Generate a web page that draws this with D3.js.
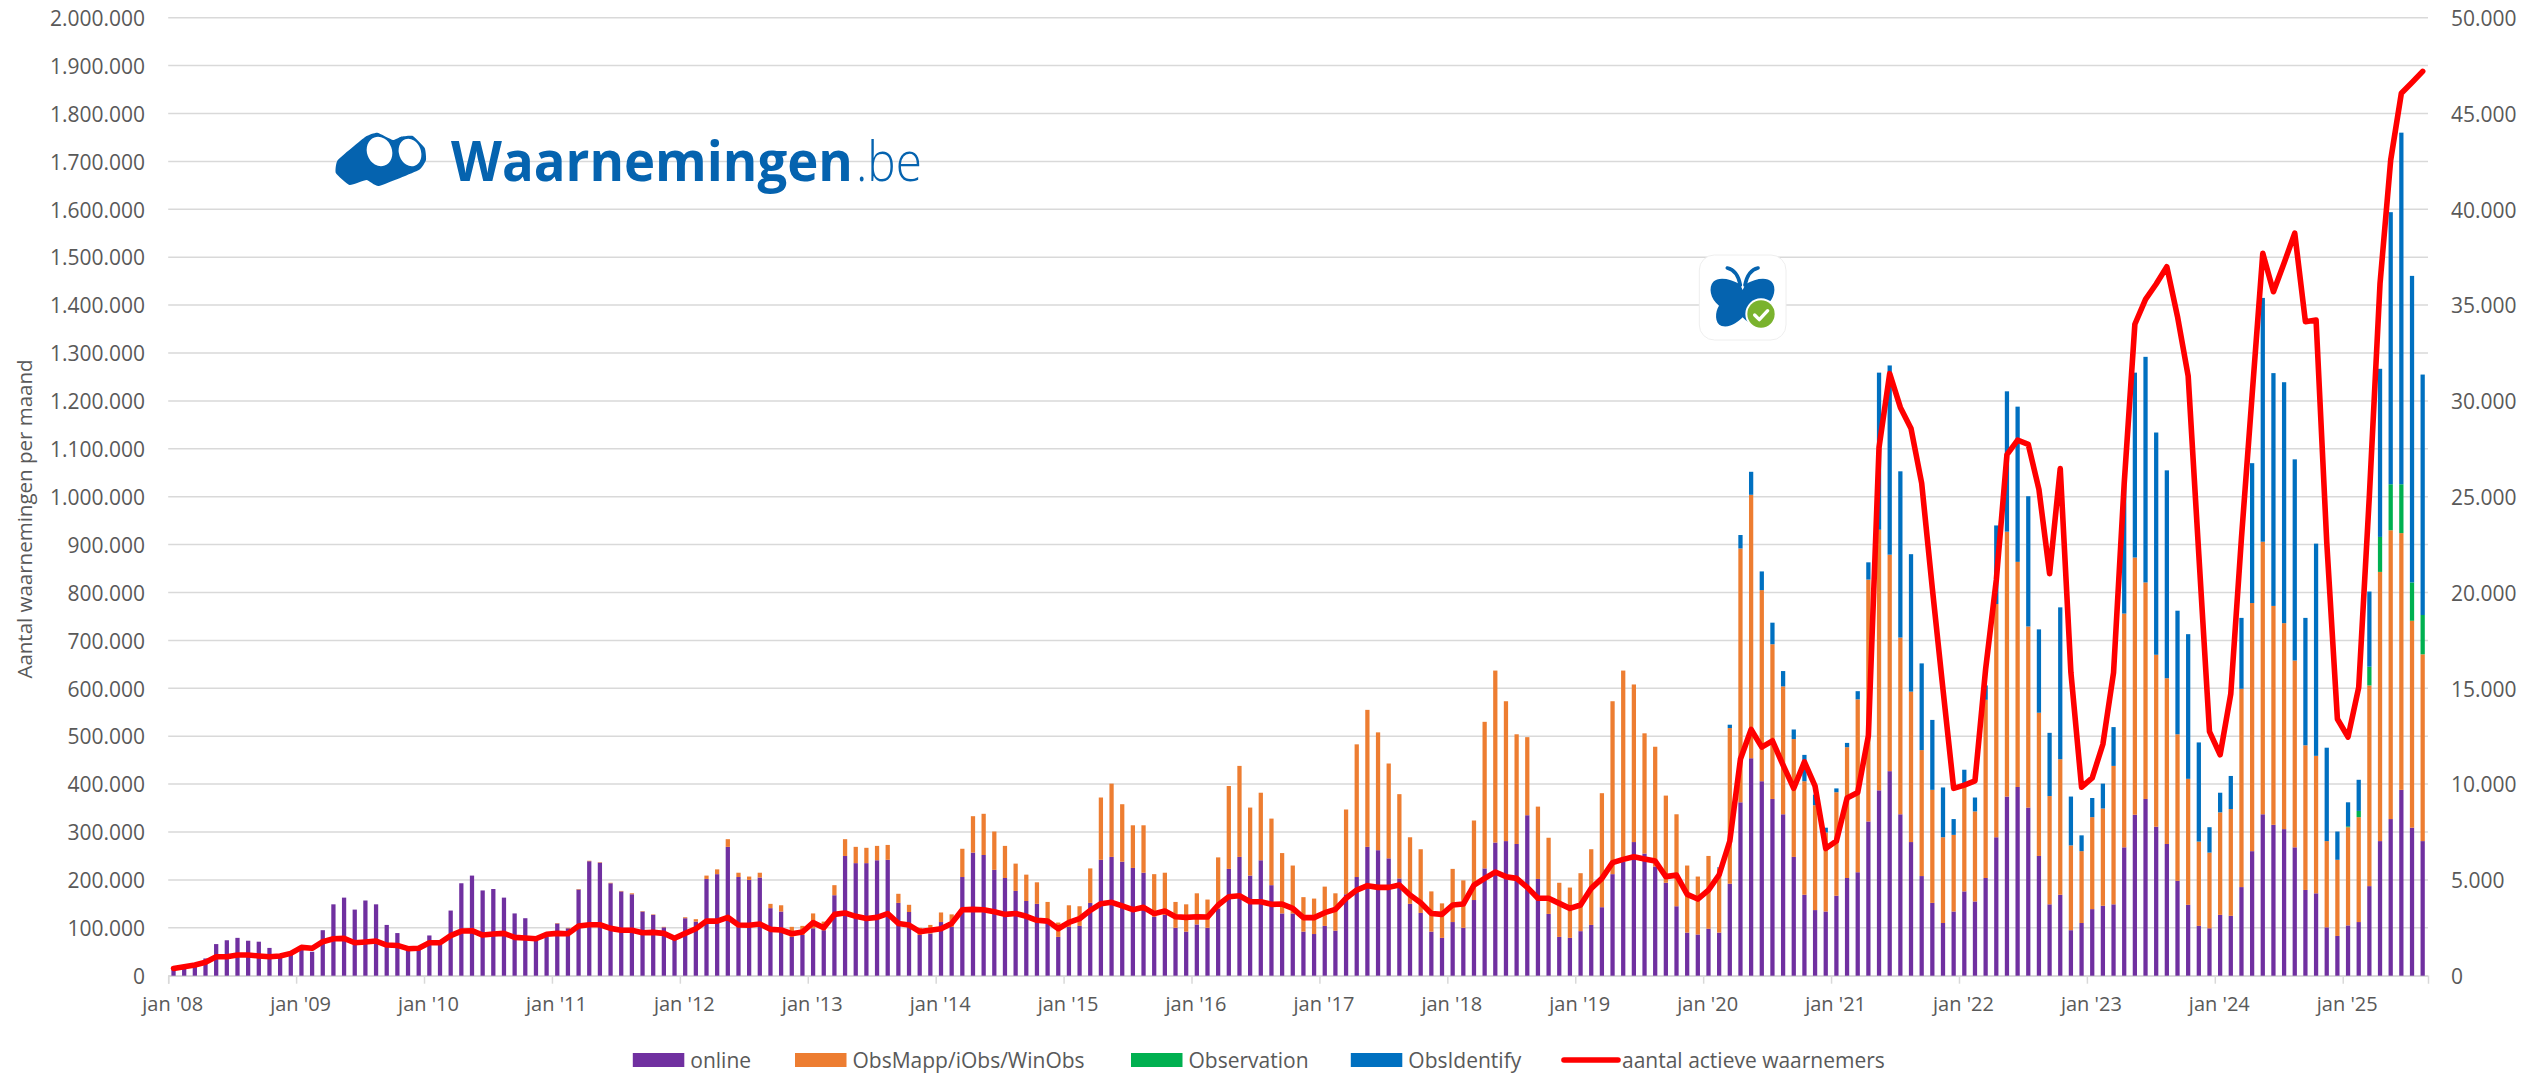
<!DOCTYPE html>
<html><head><meta charset="utf-8">
<script src="https://cdn.jsdelivr.net/npm/d3@7"></script>
<style>
html,body{margin:0;padding:0;background:#fff;overflow:hidden}
text{font-family:"Open Sans",sans-serif;fill:#595959}
</style></head><body>
<svg id="c" width="2527" height="1073"></svg>
<script>
// monthly values, in thousands of observations (Jan 2008 – Aug 2025)
const online=[14,17,25,36,66,74,79,73,71,58,40,45,
55,50,95,149,163,138,157,149,106,89,60,58,
84,70,136,193,209,178,181,163,130,120,78,82,
109,99,180,239,236,193,176,170,134,127,101,78,
120,113,202,212,269,206,200,205,141,134,81,85,
99,95,168,250,235,235,241,242,152,133,85,88,
112,102,206,257,252,221,204,177,156,150,113,81,
102,104,152,242,248,238,225,215,123,127,100,92,
107,100,140,223,248,209,241,189,130,130,92,87,
104,94,170,206,269,262,245,203,150,131,92,79,
112,100,158,224,278,281,275,335,202,129,81,79,
93,106,143,212,238,279,255,228,194,145,90,86,
98,90,192,362,454,406,369,337,248,169,137,134,
167,204,216,322,387,427,337,279,208,152,110,134,
176,155,204,289,374,394,351,250,149,169,95,110,
139,146,149,268,336,369,311,275,198,148,104,99,
127,125,185,260,337,315,306,268,179,172,101,83,
105,112,187,281,327,388,309,281];
const obsMapp=[0,0,0,0,0,0,0,0,0,0,0,0,
0,0,0,0,0,0,0,0,0,0,0,0,
0,0,0,0,0,0,0,0,0,0,0,0,
1,1,1,1,1,1,1,2,1,1,1,1,
2,5,7,10,16,9,7,10,9,13,21,19,
31,18,21,35,34,32,30,31,19,15,15,18,
20,26,59,76,86,80,67,57,55,45,41,30,
45,41,72,130,153,120,89,99,89,88,54,57,
65,59,107,173,190,142,141,139,126,100,72,74,
82,78,177,277,286,246,198,176,139,133,84,72,
111,99,166,306,359,292,229,163,151,159,113,105,
121,158,238,361,399,329,251,250,182,192,140,121,
152,134,325,530,550,399,323,267,246,237,219,165,
216,273,361,505,544,452,369,314,263,236,179,160,
226,188,372,487,553,470,378,299,226,283,177,150,
192,203,289,488,537,452,359,346,306,263,176,158,
214,223,414,518,569,457,430,390,302,287,180,159,
205,219,419,562,603,536,432,390];
const observation=new Array(204).fill(0).concat([2,13,39,73,96,102,80,82]);
const obsIdentify=new Array(144).fill(0).concat([0,2,7,28,48,39,45,32,20,55,22,10,
8,9,17,36,328,395,347,287,181,146,104,33,
28,29,30,164,293,324,272,174,132,317,102,33,
40,52,81,279,386,471,464,434,258,302,207,53,
41,69,148,292,509,486,503,420,266,443,195,59,
50,65,157,351,568,734,640,502]);
const observers=[380,470,560,700,990,990,1080,1080,1030,990,1030,1165,
1480,1430,1775,1930,1950,1720,1760,1810,1600,1580,1410,1430,
1720,1720,2090,2330,2350,2120,2175,2210,2000,1970,1930,2160,
2210,2190,2590,2660,2660,2470,2370,2370,2245,2260,2210,1950,
2210,2450,2850,2850,3045,2645,2630,2700,2420,2385,2190,2280,
2770,2505,3200,3270,3100,2990,3045,3240,2730,2645,2300,2370,
2450,2730,3445,3460,3445,3340,3200,3250,3100,2890,2850,2450,
2780,2975,3410,3760,3830,3640,3445,3570,3240,3375,3080,3045,
3080,3060,3690,4125,4175,3860,3860,3725,3740,3515,3030,3030,
3290,3460,4040,4470,4700,4610,4610,4730,4210,3810,3250,3200,
3690,3740,4730,5080,5410,5170,5080,4610,4040,4040,3775,3515,
3690,4560,5080,5900,6070,6210,6090,5985,5170,5250,4245,4000,
4470,5270,7030,11310,12850,11930,12260,10985,9780,11160,9890,6635,
7030,9270,9560,12520,27570,31420,29660,28560,25700,20210,14940,9780,
9950,10170,16000,20650,27200,27950,27730,25380,20980,26470,15820,9840,
10330,12080,15820,25700,34000,35300,36100,37000,34400,31300,21970,12740,
11530,14720,22850,30300,37700,35700,37200,38750,34130,34220,22630,13400,
12460,15050,25050,36130,42570,46060,46620,47200];
const yearLabels=["jan '08","jan '09","jan '10","jan '11","jan '12","jan '13","jan '14","jan '15","jan '16","jan '17","jan '18","jan '19","jan '20","jan '21","jan '22","jan '23","jan '24","jan '25"];
const seriesNames=["online","ObsMapp/iObs/WinObs","Observation","ObsIdentify"];
const seriesColors=["#7030A0","#ED7D31","#00B050","#0070C0"];
const lineName="aantal actieve waarnemers";
const yLeftTitle="Aantal waarnemingen per maand";

const months=d3.range(online.length);
const rows=months.map(i=>({i,online:online[i]*1000,"ObsMapp/iObs/WinObs":obsMapp[i]*1000,Observation:observation[i]*1000,ObsIdentify:obsIdentify[i]*1000}));
const stack=d3.stack().keys(seriesNames)(rows);

const L=168.2,R=2428,T=17.7,B=975.7;
const x=d3.scaleBand().domain(months).range([L,R]).paddingInner(0.6).paddingOuter(0.3);
const xTicks=d3.scaleLinear().domain([0,months.length]).range([L,R]);
const yL=d3.scaleLinear().domain([0,2000000]).range([B,T]);
const yR=d3.scaleLinear().domain([0,50000]).range([B,T]);
const fmt=d3.formatLocale({decimal:",",thousands:".",grouping:[3],currency:["",""]}).format(",");

const svg=d3.select("#c");
const grid="#d9d9d9";

// gridlines
svg.append("g").selectAll("line").data(yL.ticks(20)).join("line")
  .attr("x1",L).attr("x2",R).attr("y1",d=>yL(d)).attr("y2",d=>yL(d))
  .attr("stroke",grid).attr("stroke-width",1.5);

// left axis
const gl=svg.append("g").attr("transform",`translate(145,1)`)
  .call(d3.axisLeft(yL).ticks(20).tickFormat(fmt).tickSize(0).tickPadding(0));
gl.select(".domain").remove();
gl.selectAll("text").style("font-size","21px").style("font-family","'Open Sans'").attr("fill","#595959");
// right axis
const gr=svg.append("g").attr("transform",`translate(2451,1)`)
  .call(d3.axisRight(yR).ticks(10).tickFormat(fmt).tickSize(0).tickPadding(0));
gr.select(".domain").remove();
gr.selectAll("text").style("font-size","21px").style("font-family","'Open Sans'").attr("fill","#595959");
// bottom axis
const gb=svg.append("g").attr("transform",`translate(0,${B})`)
  .call(d3.axisBottom(xTicks).tickValues(yearLabels.map((_,i)=>i*12)).tickFormat((d,i)=>yearLabels[i]).tickSize(8).tickPadding(13));
gb.select(".domain").attr("stroke",grid).attr("stroke-width",1.5);
gb.selectAll(".tick line").attr("stroke",grid).attr("stroke-width",1.5);
gb.selectAll("text").style("font-size","20px").style("font-family","'Open Sans'").attr("fill","#595959").attr("dx",4);

// y title
svg.append("text").attr("transform","translate(32,519) rotate(-90)").attr("text-anchor","middle")
  .style("font-size","20.5px").text(yLeftTitle);

// logo: Waarnemingen.be
const blue="#0563AF";
const logo=svg.append("g");
const logoOutline=[[337.8,160],[365.5,136.7],[377.3,132.7],[393,140],[401,136.7],[412.9,136],[424.7,148],[426,160],[418.8,170],[379,186],[366.6,180],[349.6,185],[335.8,173]];
logo.append("path").attr("d",d3.line().curve(d3.curveCardinalClosed.tension(0.6))(logoOutline)).attr("fill",blue);
logo.append("ellipse").attr("cx",379.5).attr("cy",151.5).attr("rx",12.5).attr("ry",15).attr("transform","rotate(-20 379.5 151.5)").attr("fill","#fff");
logo.append("ellipse").attr("cx",410).attr("cy",152.5).attr("rx",11).attr("ry",14).attr("transform","rotate(-20 410 152.5)").attr("fill","#fff");
// each word is fitted horizontally by scaling, so its box stays where it is drawn
function fitted(str,left,width,weight){
  const t=logo.append("text").style("font-size","56px").style("font-weight",weight).style("fill",blue).text(str);
  const w=t.node().getComputedTextLength();
  t.attr("transform",`translate(${left},180.7) scale(${width/w},1)`);
}
fitted("Waarnemingen",451,402,700);
fitted(".be",856,66,300);

// app icon
const icon=svg.append("g").attr("transform","translate(1680,240) scale(0.3333)");
icon.append("rect").attr("x",58).attr("y",45).attr("width",260).attr("height",255).attr("rx",45).attr("fill","#fff").attr("stroke","#eeeeee").attr("stroke-width",3);
icon.append("path").attr("d","M180,133 C150,115 115,110 100,125 C85,142 90,175 117,197 C105,215 103,250 125,258 C150,265 175,245 188,232 C200,245 225,265 250,258 C272,250 271,215 258,197 C285,175 290,142 275,125 C260,110 226,115 196,133 L188,150 Z").attr("fill",blue);
icon.append("path").attr("d","M181,135 C175,105 160,88 142,84 M195,135 C201,105 216,88 234,84").attr("fill","none").attr("stroke",blue).attr("stroke-width",11).attr("stroke-linecap","round");
icon.append("circle").attr("cx",243).attr("cy",222).attr("r",47).attr("fill","#fff");
icon.append("circle").attr("cx",243).attr("cy",222).attr("r",41).attr("fill","#7AB32E");
icon.append("path").attr("d","M224,225 L238,239 L263,212").attr("fill","none").attr("stroke","#fff").attr("stroke-width",10).attr("stroke-linecap","round").attr("stroke-linejoin","round");

// bars
svg.append("g").selectAll("g").data(stack).join("g").attr("fill",(d,i)=>seriesColors[i])
  .selectAll("rect").data(d=>d).join("rect")
  .attr("x",d=>x(d.data.i)).attr("width",x.bandwidth())
  .attr("y",d=>yL(d[1])).attr("height",d=>Math.max(0,yL(d[0])-yL(d[1])));

// line
svg.append("path").attr("d",d3.line().x((d,i)=>x(i)+x.bandwidth()/2).y(d=>yR(d))(observers))
  .attr("fill","none").attr("stroke","#FF0000").attr("stroke-width",5.6).attr("stroke-linejoin","round").attr("stroke-linecap","round");

// legend
const legX=[632.8,795,1131,1350.8];
const lg=svg.append("g");
seriesNames.forEach((n,i)=>{
  lg.append("rect").attr("x",legX[i]).attr("y",1053).attr("width",51.5).attr("height",14).attr("fill",seriesColors[i]);
  lg.append("text").attr("x",legX[i]+57.5).attr("y",1067.5).style("font-size","21px").text(n);
});
lg.append("line").attr("x1",1564).attr("x2",1618).attr("y1",1060).attr("y2",1060).attr("stroke","#FF0000").attr("stroke-width",5.6).attr("stroke-linecap","round");
lg.append("text").attr("x",1622).attr("y",1067.5).style("font-size","21px").text(lineName);
</script>
</body></html>
